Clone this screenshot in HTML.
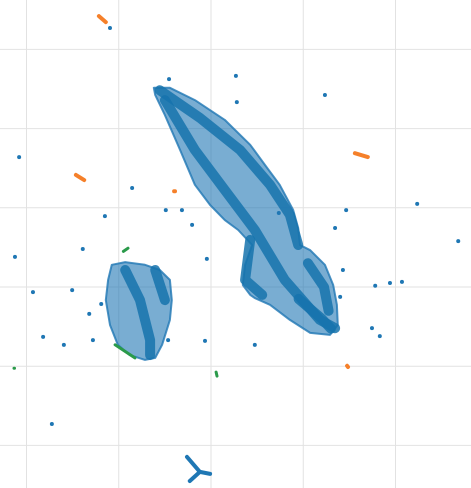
<!DOCTYPE html>
<html><head><meta charset="utf-8"><style>
html,body{margin:0;padding:0;background:#fff;width:471px;height:488px;overflow:hidden}
svg{display:block}
</style></head><body>
<svg id="chart" width="471" height="488" viewBox="0 0 471 488" xmlns="http://www.w3.org/2000/svg">
<g id="grid"></g>
<g id="marks"></g>
</svg>
<script>
const xTicks=[-4,-2,0,2,4];
const yTicks=[6,4,2,0,-2,-4];
const mainCluster=[[-1.24,5.03],[-0.89,5.03],[-0.35,4.72],[0.30,4.22],[0.85,3.59],[1.17,3.08],[1.49,2.58],[1.78,1.95],[1.89,1.49],[1.93,1.06],[2.15,0.93],[2.47,0.56],[2.65,0.05],[2.73,-0.45],[2.75,-0.96],[2.58,-1.21],[2.15,-1.16],[1.71,-0.83],[1.28,-0.45],[0.95,-0.28],[0.85,-0.20],[0.69,0.05],[0.74,0.56],[0.89,1.06],[0.59,1.44],[0.30,1.69],[-0.02,2.07],[-0.35,2.58],[-0.67,3.46],[-1.00,4.34],[-1.21,4.85]];
const leftCluster=[[-2.15,0.56],[-1.86,0.63],[-1.43,0.56],[-1.11,0.43],[-0.89,0.18],[-0.85,-0.33],[-0.89,-0.83],[-1.06,-1.46],[-1.21,-1.79],[-1.43,-1.84],[-1.76,-1.72],[-2.02,-1.46],[-2.19,-0.96],[-2.28,-0.33],[-2.23,0.18]];
const denseLanes=[
 [[-1.11,4.97],[-0.24,4.27],[0.63,3.46],[1.28,2.58],[1.71,1.82],[1.89,1.06]],
 [[-1.00,4.72],[-0.35,3.46],[0.30,2.45],[0.95,1.44],[1.60,0.18],[2.36,-0.83],[2.69,-1.04]],
 [[0.85,1.19],[0.74,0.18],[1.11,-0.20]],
 [[1.90,-0.30],[2.40,-0.80],[2.60,-1.05]],
 [[2.10,0.60],[2.45,0.00],[2.55,-0.60]],
 [[-1.86,0.43],[-1.54,-0.33],[-1.32,-1.34],[-1.32,-1.72]],
 [[-1.21,0.43],[-1.00,-0.33]]
];
const blueDots=[[-0.91,5.25],[0.54,5.33],[0.56,4.67],[2.47,4.85],[-4.16,3.28],[-1.71,2.50],[-2.30,1.79],[-0.98,1.94],[-2.78,0.96],[-4.25,0.76],[-3.86,-0.13],[-3.01,-0.08],[-2.38,-0.43],[-0.09,0.71],[-0.41,1.57],[-0.63,1.94],[1.47,1.87],[2.69,1.49],[2.93,1.94],[4.47,2.10],[5.36,1.16],[3.56,0.03],[3.88,0.10],[4.14,0.13],[3.49,-1.04],[3.66,-1.24],[-3.64,-1.26],[-3.19,-1.46],[-0.13,-1.36],[0.95,-1.46],[-3.45,-3.46],[-2.19,6.54],[-2.64,-0.68],[-2.56,-1.34],[-0.93,-1.34],[2.86,0.43],[2.80,-0.25]];
const orangeStreaks=[[[-2.43,6.84],[-2.28,6.69]],[[-2.93,2.83],[-2.75,2.70]],[[3.12,3.38],[3.40,3.28]],[[-0.80,2.42],[-0.78,2.42]],[[2.95,-1.99],[2.97,-2.02]]];
const greenStreaks=[[[-4.27,-2.05],[-4.26,-2.05]],[[0.11,-2.15],[0.13,-2.25]],[[-1.90,0.90],[-1.80,0.98]],[[-2.08,-1.46],[-1.65,-1.79]]];
const starArms=[[[-0.24,-4.67],[-0.52,-4.29]],[[-0.24,-4.67],[-0.46,-4.90]],[[-0.24,-4.67],[-0.02,-4.72]]];

const X=v=>211+v*46.125;
const Y=v=>287-v*39.6;
const NS='http://www.w3.org/2000/svg';
const grid=document.getElementById('grid'), marks=document.getElementById('marks');
function mk(tag,parent){const e=document.createElementNS(NS,tag);parent.appendChild(e);return e;}
xTicks.forEach(t=>{const l=mk('line',grid);


l.setAttribute('x1',X(t));l.setAttribute('x2',X(t));l.setAttribute('y1',0);l.setAttribute('y2',488);l.setAttribute('stroke','#e2e2e2');l.setAttribute('stroke-width','1');});
yTicks.forEach(t=>{const l=mk('line',grid);


l.setAttribute('y1',Y(t));l.setAttribute('y2',Y(t));l.setAttribute('x1',0);l.setAttribute('x2',471);l.setAttribute('stroke','#e2e2e2');l.setAttribute('stroke-width','1');});
const pts=a=>a.map(p=>X(p[0]).toFixed(1)+','+Y(p[1]).toFixed(1)).join(' ');
[mainCluster,leftCluster].forEach((c,i)=>{const p=mk('polygon',marks);


p.setAttribute('points',pts(c));p.setAttribute('fill','#1f77b4');p.setAttribute('fill-opacity','0.6');p.setAttribute('stroke','#1f77b4');p.setAttribute('stroke-opacity','0.8');p.setAttribute('stroke-width','2');p.setAttribute('stroke-linejoin','round');});
denseLanes.forEach(c=>{const p=mk('polyline',marks);


p.setAttribute('points',pts(c));p.setAttribute('fill','none');p.setAttribute('stroke','#1673ad');p.setAttribute('stroke-width','10');p.setAttribute('stroke-linecap','round');p.setAttribute('stroke-linejoin','round');p.setAttribute('stroke-opacity','0.85');});
blueDots.forEach(d=>{const c=mk('circle',marks);


c.setAttribute('cx',X(d[0]));c.setAttribute('cy',Y(d[1]));c.setAttribute('r','2');c.setAttribute('fill','#1f77b4');});
function streaks(list,col,name,w){list.forEach(s=>{const p=mk('polyline',marks);


p.setAttribute('points',pts(s));p.setAttribute('fill','none');p.setAttribute('stroke',col);p.setAttribute('stroke-width',w);p.setAttribute('stroke-linecap','round');});}
streaks(orangeStreaks,'#f5802a','orange-points','4');
streaks(greenStreaks,'#2a9a4a','green-points','3');
streaks(starArms,'#1f77b4','bottom-star-cluster','4');
</script>
</body></html>
